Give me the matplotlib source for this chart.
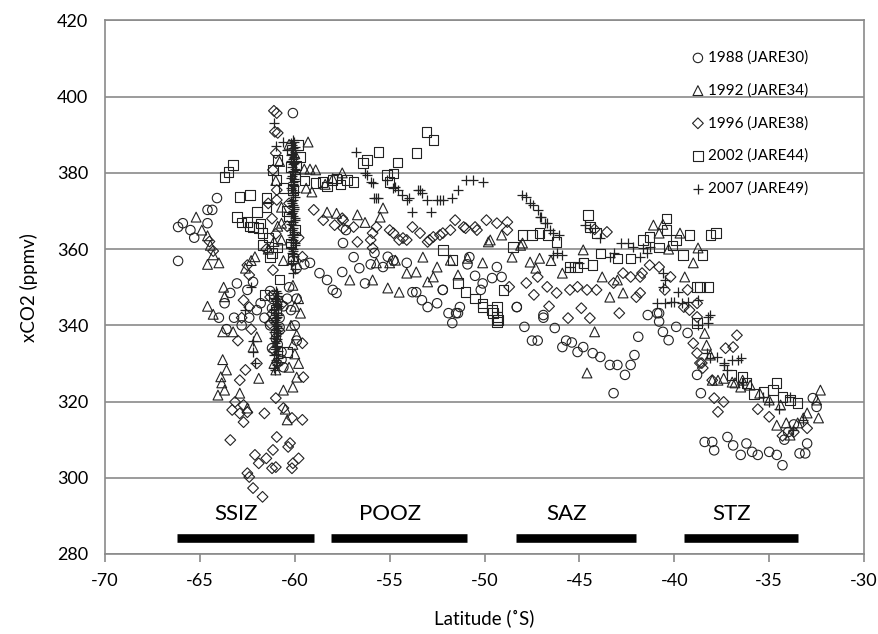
import matplotlib
matplotlib.use("Agg")
import matplotlib.pyplot as plt

plt.rcParams['font.family'] = ['Lato', 'DejaVu Sans']
plt.rcParams['axes.unicode_minus'] = False

# ---------------- data ----------------
lat_1988 = [-66.15, -66.15, -65.9, -65.5, -65.3, -64.6, -64.6, -64.35, -64.1,
            -63.7, -63.4, -63.05, -62.5, -62.2, -61.8, -63.2, -62.8, -62.4, -62.0, -61.6,
            -61.3, -61.0, -60.8, -60.6, -60.4, -60.2, -60.0, -59.9, -61.2, -60.7, -60.3,
            -59.9, -64.0, -63.6, -60.1, -60.1, -59.9, -59.5,
            -61.1, -60.9, -61.2, -60.8, -61.0, -60.7, -61.3, -60.6, -61.1, -60.9,
            -59.2, -58.7, -58.3, -58.0, -57.8, -57.5, -57.46, -57.3, -56.9, -56.6, -56.3,
            -56.0, -55.8, -55.35, -55.1, -54.8, -54.1, -53.8, -53.6, -53.3, -53.0, -52.5,
            -52.2, -51.9, -51.7, -51.4, -51.3, -50.9, -50.5, -50.2, -50.1, -49.6, -49.1,
            -48.3, -47.9, -47.5, -47.2, -46.9, -46.3, -45.9, -45.7, -45.4, -45.1, -44.8,
            -44.3, -43.9, -43.4, -43.0, -42.6, -42.3, -42.1, -43.2, -41.9, -41.4, -40.9,
            -40.8, -40.6, -40.3, -39.9, -39.3, -38.8, -38.6,
            -38.4, -38.0, -37.9, -37.2, -36.9, -36.5, -36.2, -35.9, -35.6, -35.0, -34.6,
            -34.3, -34.2, -33.4, -33.1, -33.0, -32.7, -32.5, -34.0, -33.7,
            -52.2, -51.5, -50.8, -49.35, -48.3, -46.9, -40.8]
co2_1988 = [356.9, 365.8, 366.8, 365.0, 363.0, 366.8, 370.3, 370.3, 373.4,
            345.8, 348.5, 351.0, 349.3, 351.4, 345.8, 342.0, 340.0, 342.0, 344.0, 342.0,
            340.0, 338.0, 342.0, 345.0, 347.0, 344.0, 340.0, 336.0, 334.0, 333.0, 350.0,
            347.0, 342.0, 339.0, 395.7, 357.0, 355.0, 356.0,
            348.0, 346.5, 344.5, 339.5, 336.5, 331.0, 349.0, 329.0, 341.5, 335.0,
            356.4, 353.7, 351.9, 349.3, 348.5, 354.0, 361.6, 365.0, 357.9, 355.0, 351.0,
            356.0, 359.0, 355.3, 358.0, 357.0, 356.4, 348.7, 348.7, 346.6, 344.8, 345.8,
            349.3, 343.2, 340.6, 343.2, 344.8, 356.0, 353.0, 349.3, 351.0, 352.4, 352.7,
            344.8, 339.6, 336.0, 336.0, 342.0, 339.3, 334.3, 336.0, 335.5, 333.0, 334.3,
            332.7, 331.7, 329.6, 329.6, 327.0, 329.6, 332.2, 322.2, 337.0, 342.7, 343.2,
            341.0, 338.3, 336.1, 339.6, 338.0, 327.0, 322.2,
            309.4, 309.4, 307.2, 310.7, 308.5, 306.0, 309.0, 306.8, 306.0, 306.8, 306.0,
            303.3, 310.0, 306.4, 306.4, 309.0, 320.9, 318.6, 312.0, 314.0,
            349.3, 343.2, 357.9, 355.3, 344.8, 342.7, 343.2]

lat_1992 = [-65.2, -64.9, -64.6, -64.45, -64.3, -64.6, -64.0, -63.75, -63.7, -64.6,
            -64.3, -63.8, -63.25, -63.8, -63.6, -63.85, -64.05, -63.7, -63.9, -62.9,
            -62.5, -62.2, -62.0, -61.9, -61.0, -60.6, -60.4, -60.1, -59.9, -59.7,
            -60.5, -59.8, -60.0, -61.1, -62.6, -62.3,
            -60.3, -59.3, -60.0, -59.5, -59.2, -58.9, -59.4, -59.1, -60.8, -61.0, -60.7,
            -60.9, -61.1, -60.6, -61.4, -62.1, -60.7, -60.7,
            -60.2, -59.9, -60.1, -60.0, -59.8, -60.3, -60.1,
            -58.4, -58.0, -57.5, -57.1, -56.7, -56.3, -55.9, -55.7, -55.5, -55.35, -55.0,
            -55.1, -54.5, -54.1, -53.25, -53.0, -52.5, -51.8, -51.4, -50.9, -50.1, -49.8,
            -49.7, -49.1, -48.55, -48.1, -48.0, -47.6, -47.1, -58.3, -57.8, -54.7, -53.6,
            -52.7,
            -44.8, -43.8, -43.4, -42.7, -45.9, -43.0, -44.2, -44.6, -41.1, -40.8, -39.7,
            -39.0, -38.75, -39.45, -46.5, -47.3, -40.6, -40.3,
            -38.4, -38.3, -38.1, -38.0, -37.7, -37.4, -36.95, -36.5, -36.0, -35.5, -35.0,
            -34.6, -34.4, -34.1, -33.9, -33.5, -33.2, -33.0, -32.4, -32.3, -32.5, -36.8,
            -36.4]
co2_1992 = [368.4, 365.0, 363.5, 361.0, 358.5, 356.0, 356.4, 350.0, 347.5, 345.0,
            342.9, 338.3, 338.3, 331.0, 328.3, 324.9, 321.7, 323.0, 326.5, 322.2,
            318.3, 334.3, 337.0, 326.1, 328.3, 323.0, 315.2, 323.8, 326.4, 343.2,
            318.0, 330.0, 345.0, 330.0, 355.0, 357.0,
            387.5, 388.1, 385.0, 381.0, 381.0, 380.8, 376.0, 375.0, 383.0, 378.0, 371.0,
            366.0, 362.0, 357.0, 360.0, 358.0, 366.8, 362.4,
            340.0, 337.5, 335.0, 332.5, 347.0, 329.0, 350.5,
            377.0, 378.5, 380.0, 351.9, 369.0, 367.0, 351.9, 356.4, 368.4, 370.8, 356.4,
            349.8, 348.7, 353.7, 357.9, 351.4, 355.3, 357.1, 353.2, 357.6, 356.4, 361.9,
            362.4, 363.7, 357.9, 361.0, 361.6, 356.6, 357.6, 369.7, 369.4, 357.1, 354.0,
            352.7,
            359.8, 352.7, 347.4, 348.5, 353.7, 351.9, 338.3, 327.5, 366.3, 364.2, 364.2,
            356.4, 360.3, 352.7, 357.0, 355.0, 366.5, 360.0,
            337.9, 334.8, 332.2, 325.6, 325.6, 326.1, 325.1, 323.8, 324.3, 322.2, 320.4,
            313.8, 319.1, 314.4, 311.2, 314.4, 315.7, 317.0, 315.7, 323.0, 320.4, 324.9,
            325.6]

lat_1996 = [-60.95, -61.1, -60.9, -61.05, -61.0, -61.15, -60.95, -60.95, -61.2, -61.0,
            -59.0, -58.5, -57.9, -57.5, -62.5, -62.4, -62.7, -62.4, -61.15, -61.3,
            -61.5, -61.4, -60.3, -60.4, -59.8, -59.6, -64.3, -64.5,
            -61.2, -60.8, -61.1, -60.7, -61.3, -60.9,
            -63.4, -62.7, -62.5, -62.7, -63.3, -63.15, -62.6, -62.9, -62.5, -62.4,
            -62.2, -61.7, -62.1, -61.9, -61.5, -61.2, -61.0, -61.15, -60.95, -61.0,
            -61.6, -60.6, -60.25, -60.35, -60.1, -60.15, -59.8, -59.6, -59.55, -59.6,
            -60.15, -62.9, -62.0, -62.3, -63.0, -62.8,
            -57.45, -57.45, -56.7, -55.9, -55.7, -55.0, -54.5, -54.3, -53.8, -53.4,
            -53.0, -52.9, -52.35, -51.8, -51.55, -51.1, -51.0, -50.5, -50.4, -49.9,
            -49.35, -48.8, -48.8, -56.9, -56.0, -54.8, -54.1, -52.7, -52.2, -55.9,
            -48.7, -47.8, -47.2, -46.7, -46.2, -45.5, -45.1, -44.6, -44.1, -43.2,
            -42.3, -41.8, -40.2, -39.3, -39.5, -42.9, -44.9, -41.8, -42.7, -43.55,
            -44.2, -41.7, -41.3, -40.8, -40.5, -42.0, -44.45, -45.6, -38.8, -39.2,
            -38.8, -46.6, -47.4,
            -39.0, -38.8, -38.55, -38.5, -37.3, -36.9, -36.7, -38.0, -37.9, -37.7,
            -37.4, -38.65, -35.6, -35.0, -34.3, -33.7, -33.0]
co2_1996 = [395.7, 396.3, 390.5, 390.8, 385.2, 380.8, 375.5, 372.9, 368.0, 364.0,
            370.3, 367.6, 366.3, 368.1, 355.8, 353.2, 346.6, 344.8, 354.5, 347.4,
            360.0, 372.0, 372.0, 366.0, 363.0, 358.0, 359.5, 362.0,
            343.0, 338.5, 333.5, 345.5, 340.5, 330.0,
            309.9, 314.6, 317.2, 319.1, 317.8, 319.9, 328.3, 325.6, 301.2, 300.2,
            297.3, 295.0, 306.0, 303.8, 305.1, 302.5, 302.8, 307.3, 310.7, 320.9,
            316.9, 318.3, 309.1, 308.1, 303.8, 302.5, 305.1, 315.2, 326.4, 335.3,
            315.7, 316.9, 330.0, 339.0, 336.0, 342.0,
            367.6, 365.5, 361.9, 364.2, 365.8, 365.0, 362.4, 362.9, 365.8, 364.2,
            361.9, 362.4, 363.7, 365.0, 367.6, 365.8, 365.5, 365.8, 365.0, 367.6,
            366.8, 367.1, 365.0, 365.8, 362.4, 364.2, 362.4, 363.2, 364.2, 360.3,
            350.1, 351.1, 352.7, 350.1, 348.5, 349.3, 350.1, 349.3, 349.3, 351.1,
            352.7, 352.7, 352.7, 349.3, 344.8, 343.2, 344.5, 348.5, 353.7, 364.5,
            365.2, 353.7, 355.8, 355.3, 349.3, 347.4, 341.9, 341.9, 342.2, 344.0,
            345.8, 345.0, 348.0,
            335.3, 332.7, 330.1, 328.8, 334.0, 334.3, 337.4, 325.6, 320.9, 317.3,
            319.9, 330.1, 318.0, 316.0, 311.0, 312.0, 313.0]

lat_2002 = [-63.7, -63.5, -63.25, -62.9, -62.35, -63.05, -62.5, -62.0, -61.5, -61.8,
            -61.7, -61.7, -61.3, -62.2, -61.15, -60.95, -59.7, -59.8, -60.9, -61.5,
            -62.8, -62.4, -61.9, -61.4, -61.2, -60.9, -60.8, -61.6, -61.0, -60.4,
            -59.9, -59.5, -60.6, -60.4,
            -60.2, -60.0, -60.1, -60.3, -60.0, -60.2, -60.1,
            -58.9, -58.55, -58.0, -57.8, -57.25, -56.9, -56.4, -56.2, -55.6, -55.15,
            -55.0, -54.8, -54.6, -53.6, -53.05, -52.7, -58.3, -57.6,
            -52.2, -51.7, -51.4, -51.0, -50.5, -50.1, -50.1, -49.6, -49.55, -49.35,
            -49.35, -49.35, -49.3, -49.0, -48.5, -48.0, -47.5, -47.1, -46.65, -46.2,
            -44.55, -44.45, -44.1, -45.5, -45.1, -44.8, -44.3, -43.9, -43.0, -42.3,
            -41.65, -41.3, -40.4, -40.4, -39.9, -39.55, -39.2, -38.5, -38.1, -37.8,
            -38.8, -38.65, -38.2, -40.8, -40.1, -38.8,
            -36.4, -36.2, -35.3, -34.8, -34.6, -34.3, -33.9, -33.5, -37.0, -35.8]
co2_2002 = [378.9, 380.2, 382.1, 373.7, 374.2, 368.4, 367.1, 369.7, 371.0, 366.8,
            364.2, 361.1, 357.9, 365.8, 380.8, 378.1, 384.2, 387.3, 383.4, 373.4,
            367.0, 366.0, 365.5, 363.0, 359.0, 360.5, 352.0, 348.0, 344.0, 333.0,
            382.0, 378.0, 376.0, 370.0,
            381.5, 379.0, 375.5, 368.5, 365.0, 361.5, 357.5,
            377.3, 377.6, 378.1, 378.6, 378.1, 377.6, 382.6, 383.4, 385.5, 379.4,
            377.6, 379.9, 382.8, 385.2, 390.7, 388.6, 376.5, 377.0,
            359.8, 357.1, 351.1, 348.7, 347.1, 344.8, 345.8, 344.0, 343.2, 342.2,
            340.9, 344.8, 341.4, 349.3, 360.6, 363.7, 363.7, 364.2, 363.7, 361.9,
            368.9, 365.8, 364.2, 355.3, 355.3, 356.4, 355.8, 358.9, 357.6, 357.6,
            362.4, 363.2, 368.1, 365.0, 362.4, 358.5, 363.7, 358.5, 363.7, 364.2,
            350.1, 350.1, 350.1, 360.5, 361.0, 340.6,
            326.4, 324.9, 322.5, 323.0, 324.9, 321.2, 320.4, 319.6, 327.0, 322.0]

lat_2007 = [-60.1, -60.2, -60.0, -60.1, -60.15, -60.05, -60.2, -60.1, -60.0, -60.1,
            -60.15, -60.05, -60.1, -60.2, -60.0, -60.1, -60.1, -60.15, -60.05, -60.1,
            -60.2, -60.0, -60.1, -60.1, -60.15, -60.05, -60.1, -60.2, -60.0, -60.1,
            -60.15, -60.05, -60.1, -60.2, -60.0, -60.1,
            -60.05, -60.15, -60.1, -60.0, -60.2, -60.1, -60.05, -60.15, -60.1, -60.0,
            -60.2, -60.1, -60.05, -60.15, -60.1, -60.0, -60.2, -60.1, -60.05, -60.15,
            -60.1, -60.0, -60.2, -60.1, -60.05, -60.15, -60.1, -60.0, -60.2, -60.1,
            -61.1, -60.6, -61.0, -60.4,
            -61.0, -60.9, -61.05, -60.95, -61.0, -61.1, -60.9, -61.0, -61.05, -60.95,
            -61.0, -60.9, -61.1, -61.0, -60.95, -61.05, -61.0, -60.9, -61.0, -61.1,
            -60.95, -61.05, -61.0, -60.9, -61.1, -61.0, -60.95, -61.05, -61.0, -60.9,
            -61.1, -61.0, -60.95, -61.05, -61.0, -60.9, -61.1, -61.0, -60.95, -61.05,
            -62.2, -62.2, -62.1, -62.6, -62.3,
            -56.8, -56.3, -56.2, -56.0, -55.9, -55.8, -55.7, -55.6, -55.15, -54.8,
            -54.7, -54.55, -54.35, -54.1, -54.0, -53.8, -53.5, -53.4, -53.3, -53.05,
            -52.8, -52.5, -52.35, -52.2, -51.7, -51.4, -51.0, -50.6, -50.1,
            -48.0, -47.8, -47.6, -47.45, -47.2, -47.1, -47.0, -46.8, -46.7, -46.55,
            -46.4, -46.1, -46.4, -46.2, -45.9, -45.5, -45.0, -44.7, -44.45, -43.9,
            -43.4, -43.2, -42.8, -42.45, -42.2, -41.8, -41.65, -41.45, -41.3, -40.6,
            -40.5, -40.6, -40.9, -40.5, -40.2, -40.0, -39.8, -39.6, -39.3, -38.75,
            -38.2, -38.1, -38.2, -38.75,
            -38.3, -38.1, -37.75, -37.4, -37.4, -37.2, -36.95, -36.65, -36.5, -36.4,
            -35.3, -33.9, -33.75, -33.2, -34.5, -35.0]
co2_2007 = [388.6, 387.8, 386.9, 386.1, 385.0, 384.2, 383.1, 382.3, 381.0, 380.2,
            379.1, 378.3, 377.2, 376.0, 375.1, 374.3, 373.0, 372.2, 371.1, 370.0,
            369.2, 368.1, 367.0, 366.2, 365.1, 364.0, 363.1, 362.0, 361.2, 360.1,
            359.0, 358.1, 357.0, 356.1, 354.9, 353.8,
            388.2, 387.4, 386.5, 385.6, 384.7, 383.6, 382.7, 381.6, 380.6, 379.6,
            378.7, 377.7, 376.6, 375.6, 374.7, 373.6, 372.6, 371.6, 370.6, 369.6,
            368.6, 367.6, 366.6, 365.6, 364.6, 363.6, 362.5, 361.6, 360.6, 359.6,
            393.0, 388.0, 387.0, 386.0,
            349.0, 347.8, 346.9, 345.7, 344.8, 343.9, 342.7, 341.8, 340.9, 339.8,
            338.7, 337.9, 336.8, 335.9, 334.7, 333.8, 332.6, 331.5, 330.3, 328.9,
            348.4, 347.3, 346.3, 345.2, 344.3, 343.3, 342.3, 341.3, 340.3, 339.3,
            338.3, 337.3, 336.3, 335.3, 334.2, 333.3, 332.1, 331.0, 329.7, 328.3,
            333.0, 336.0, 330.0, 344.0, 350.0,
            385.5, 379.9, 379.4, 377.6, 377.3, 373.4, 373.4, 373.4, 378.1, 376.0,
            376.3, 375.5, 374.2, 372.9, 373.4, 369.7, 375.5, 375.5, 374.7, 372.9,
            369.7, 372.9, 372.9, 372.9, 373.4, 375.5, 378.1, 378.1, 377.6,
            374.2, 373.7, 372.1, 371.6, 370.3, 368.4, 368.4, 366.8, 366.8, 365.0,
            364.2, 363.7, 358.5, 358.9, 358.5, 355.3, 356.4, 366.3, 365.5, 362.9,
            357.9, 358.9, 361.6, 361.6, 360.6, 357.9, 360.3, 358.9, 360.6, 353.7,
            351.9, 350.1, 345.8, 345.8, 346.1, 346.1, 348.7, 345.8, 346.1, 346.6,
            342.2, 342.7, 340.6, 340.1,
            332.7, 331.4, 331.7, 330.1, 329.6, 328.3, 330.9, 330.9, 331.4, 325.1,
            321.2, 321.2, 312.5, 315.2, 318.0, 320.0]

series_labels = ["1988 (JARE30)", "1992 (JARE34)", "1996 (JARE38)",
                 "2002 (JARE44)", "2007 (JARE49)"]
series_markers = ["o", "^", "D", "s", "+"]

zone_names = ["SSIZ", "POOZ", "SAZ", "STZ"]
zone_start = [-66.2, -58.1, -48.35, -39.5]
zone_end = [-59.0, -50.9, -42.0, -33.5]
zone_bar_y = 284.2
zone_label_y = 290.5

# ---------------- figure ----------------
fig = plt.figure(figsize=(8.79, 6.34), dpi=100)
ax = fig.add_axes([0.1195, 0.1262, 0.8635, 0.8415])

grid_c = "#8a8a8a"
ax.set_xlim(-70, -30)
ax.set_ylim(280, 420)
ax.set_yticks(range(280, 421, 20))
ax.set_xticks(range(-70, -29, 5))
ax.yaxis.grid(True, color=grid_c, linewidth=1.2)
ax.set_axisbelow(True)
for s in ax.spines.values():
    s.set_color(grid_c)
    s.set_linewidth(1.2)
ax.tick_params(axis='y', length=0, labelsize=13, pad=12)
ax.tick_params(axis='x', length=6, width=1.2, color=grid_c, labelsize=13, pad=8)

xs = [lat_1988, lat_1992, lat_1996, lat_2002, lat_2007]
ys = [co2_1988, co2_1992, co2_1996, co2_2002, co2_2007]
sizes = [46, 50, 30, 46, 60]
handles = []
for x, y, m, lab, sz in zip(xs, ys, series_markers, series_labels, sizes):
    if m == "+":
        h = ax.scatter(x, y, marker=m, s=sz, c="#222222", linewidths=0.9, label=lab)
    else:
        h = ax.scatter(x, y, marker=m, s=sz, facecolors="none",
                       edgecolors="#222222", linewidths=0.8, label=lab)
    handles.append(h)

for name, a, b in zip(zone_names, zone_start, zone_end):
    ax.hlines(zone_bar_y, a, b, colors="black", linewidth=6.2)
    ax.text((a + b) / 2 - 0.5, zone_label_y, name, ha="center", va="center",
            fontsize=16)

leg = ax.legend(handles=handles, loc="upper left", bbox_to_anchor=(0.765, 0.955),
                frameon=False, fontsize=11, handlelength=0.8, handletextpad=0.25,
                labelspacing=1.2, borderaxespad=0)

ax.set_xlabel("Latitude (˚S)", fontsize=13.5, labelpad=14)
ax.set_ylabel("xCO2 (ppmv)", fontsize=13.5, labelpad=14)

fig.savefig("out.png", dpi=100)
